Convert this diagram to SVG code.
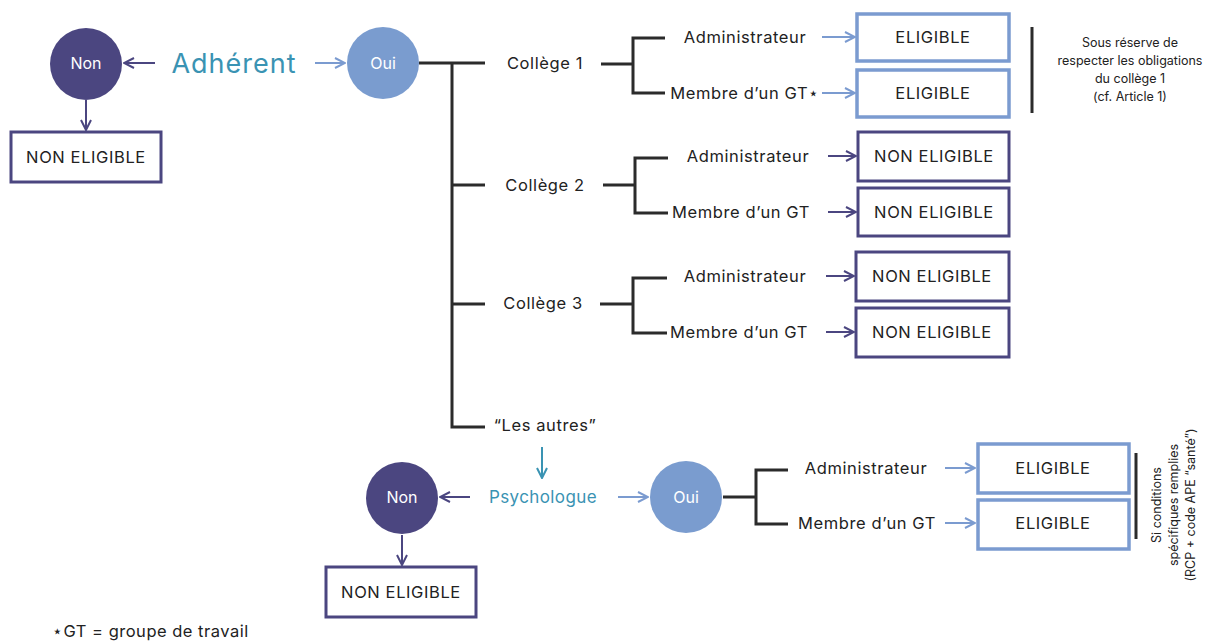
<svg xmlns="http://www.w3.org/2000/svg" width="1218" height="643" viewBox="0 0 1218 643">
<defs>
<marker id="aD" viewBox="0 0 12 12" refX="11" refY="6" markerWidth="12" markerHeight="12" markerUnits="userSpaceOnUse" orient="auto"><path d="M1,1 L11,6 L1,11" fill="none" stroke="#4b4680" stroke-width="2"/></marker>
<marker id="aL" viewBox="0 0 12 12" refX="11" refY="6" markerWidth="12" markerHeight="12" markerUnits="userSpaceOnUse" orient="auto"><path d="M1,1 L11,6 L1,11" fill="none" stroke="#7b9bd0" stroke-width="2"/></marker>
<marker id="aT" viewBox="0 0 12 12" refX="11" refY="6" markerWidth="12" markerHeight="12" markerUnits="userSpaceOnUse" orient="auto"><path d="M1,1 L11,6 L1,11" fill="none" stroke="#3a93b3" stroke-width="2"/></marker>
</defs>
<style>
text{font-family:Inter,"Liberation Sans",sans-serif;fill:#222;}
.t{font-size:16.5px;letter-spacing:0.6px;text-anchor:middle;dominant-baseline:central;}
.c{font-size:16px;fill:#fff;text-anchor:middle;dominant-baseline:central;}
.h{fill:#3a93b3;text-anchor:middle;dominant-baseline:central;}
.n{font-size:12.5px;text-anchor:middle;}
.tree{fill:none;stroke:#2b2b2b;stroke-width:3;}
.dk{stroke:#4b4680;stroke-width:2;fill:none;marker-end:url(#aD);}
.lt{stroke:#7b9bd0;stroke-width:2;fill:none;marker-end:url(#aL);}
.tl{stroke:#3a93b3;stroke-width:2;fill:none;marker-end:url(#aT);}
.bd{fill:#fff;stroke:#4b4680;stroke-width:3;}
.bl{fill:#fff;stroke:#7b9bd0;stroke-width:3.5;}
.bar{stroke:#2b2b2b;stroke-width:3;}
</style>
<rect width="1218" height="643" fill="#fff"/>

<g id="connectors">
<path class="dk" d="M155,63 H124"/>
<path class="dk" d="M86,100 V130"/>
<path class="lt" d="M315,63 H345"/>
<path class="tree" d="M419,63 H485 M452,63 V427 H485 M452,185 H485 M452,304 H485"/>
<path class="tree" d="M601,64 H633 M665,38 H633 V93 H665"/>
<path class="tree" d="M603,185 H635 M668,158 H635 V213 H668"/>
<path class="tree" d="M600,304 H633 M667,278 H633 V333 H667"/>
<path class="lt" d="M822,37 H855"/>
<path class="lt" d="M822,93 H855"/>
<path class="dk" d="M828,156 H856"/>
<path class="dk" d="M828,212 H856"/>
<path class="dk" d="M826,276 H854"/>
<path class="dk" d="M826,332 H854"/>
<path class="tl" d="M542,447 V478"/>
<path class="dk" d="M470,497 H440"/>
<path class="lt" d="M618,497 H648"/>
<path class="dk" d="M402,535 V565"/>
<path class="tree" d="M723,497 H756 M788,470 H756 V524 H788"/>
<path class="lt" d="M945,468 H975"/>
<path class="lt" d="M945,523 H975"/>
<line class="bar" x1="1032" y1="27" x2="1032" y2="113"/>
<line class="bar" x1="1136" y1="453" x2="1136" y2="539"/>
</g>

<g id="non1"><circle cx="86" cy="64" r="36" fill="#4b4680"/><text class="c" x="86" y="63">Non</text></g>
<g id="adherent"><text class="h" x="234" y="63" font-size="27" letter-spacing="1">Adhérent</text></g>
<g id="nonelig1"><rect class="bd" x="11" y="132" width="150" height="50"/><text class="t" x="86" y="157">NON ELIGIBLE</text></g>
<g id="oui1"><circle cx="383" cy="63" r="36" fill="#7a9ccf"/><text class="c" x="383" y="63">Oui</text></g>

<g id="college1"><text class="t" x="545" y="63">Collège 1</text></g>
<g id="college2"><text class="t" x="545" y="185">Collège 2</text></g>
<g id="college3"><text class="t" x="543" y="303">Collège 3</text></g>
<g id="autres"><text class="t" x="545" y="425">“Les autres”</text></g>

<g id="c1admin"><text class="t" x="745" y="37">Administrateur</text></g>
<g id="c1gt"><text class="t" x="745" y="93">Membre d’un GT⋆</text></g>
<g id="c1e1"><rect class="bl" x="857" y="14" width="152" height="47"/><text class="t" x="933" y="37">ELIGIBLE</text></g>
<g id="c1e2"><rect class="bl" x="857" y="70" width="152" height="47"/><text class="t" x="933" y="93">ELIGIBLE</text></g>
<g id="note1">
<text class="n" x="1130" y="47">Sous réserve de</text>
<text class="n" x="1130" y="65">respecter les obligations</text>
<text class="n" x="1130" y="83">du collège 1</text>
<text class="n" x="1130" y="101">(cf. Article 1)</text>
</g>

<g id="c2admin"><text class="t" x="748" y="156">Administrateur</text></g>
<g id="c2gt"><text class="t" x="741" y="212">Membre d’un GT</text></g>
<g id="c2n1"><rect class="bd" x="858" y="132" width="151" height="49"/><text class="t" x="934" y="156">NON ELIGIBLE</text></g>
<g id="c2n2"><rect class="bd" x="858" y="188" width="151" height="48"/><text class="t" x="934" y="212">NON ELIGIBLE</text></g>

<g id="c3admin"><text class="t" x="745" y="276">Administrateur</text></g>
<g id="c3gt"><text class="t" x="739" y="332">Membre d’un GT</text></g>
<g id="c3n1"><rect class="bd" x="856" y="252" width="153" height="49"/><text class="t" x="932" y="276">NON ELIGIBLE</text></g>
<g id="c3n2"><rect class="bd" x="856" y="308" width="153" height="49"/><text class="t" x="932" y="332">NON ELIGIBLE</text></g>

<g id="psy"><text class="h" x="543" y="497" font-size="17" letter-spacing="0.4">Psychologue</text></g>
<g id="non2"><circle cx="402" cy="498" r="36" fill="#4b4680"/><text class="c" x="402" y="497">Non</text></g>
<g id="nonelig2"><rect class="bd" x="326" y="567" width="150" height="50"/><text class="t" x="401" y="592">NON ELIGIBLE</text></g>
<g id="oui2"><circle cx="686" cy="497" r="36" fill="#7a9ccf"/><text class="c" x="686" y="497">Oui</text></g>

<g id="padmin"><text class="t" x="866" y="468">Administrateur</text></g>
<g id="pgt"><text class="t" x="867" y="523">Membre d’un GT</text></g>
<g id="pe1"><rect class="bl" x="978" y="444" width="151" height="49"/><text class="t" x="1053" y="468">ELIGIBLE</text></g>
<g id="pe2"><rect class="bl" x="978" y="500" width="151" height="49"/><text class="t" x="1053" y="523">ELIGIBLE</text></g>
<g id="note2" transform="translate(1175,505) rotate(-90)">
<text class="n" x="0" y="-14">Si conditions</text>
<text class="n" x="0" y="3">spécifiques remplies</text>
<text class="n" x="0" y="20">(RCP + code APE “santé”)</text>
</g>

<g id="footnote"><text x="52" y="637" font-size="16.5" letter-spacing="0.5">⋆GT = groupe de travail</text></g>
</svg>
